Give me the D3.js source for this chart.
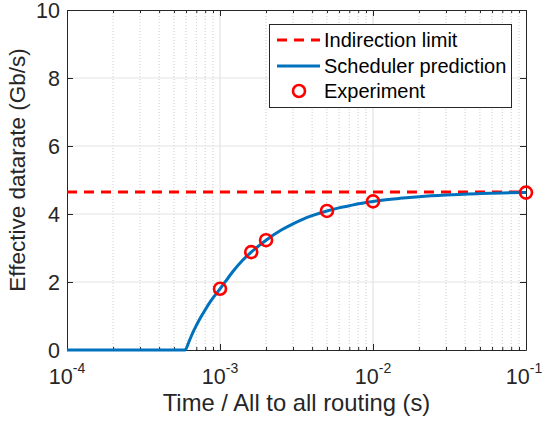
<!DOCTYPE html>
<html>
<head>
<meta charset="utf-8">
<script src="https://cdn.jsdelivr.net/npm/d3@7"></script>
<style>
  html, body { margin: 0; padding: 0; background: #fff; }
  svg { display: block; font-family: "Liberation Sans", Arial, Helvetica, sans-serif; }
</style>
</head>
<body>
<svg id="chart" width="543" height="423"></svg>
<script>
// Indirection limit (Gb/s)
const indirectionLimit = [4.65];

// Scheduler prediction curve (time in s, rate in Gb/s)
const predTime = [1e-4, 2e-4, 4e-4, 5.9e-4, 6.3e-4, 6.7e-4, 7e-4, 7.5e-4, 8e-4, 8.5e-4, 9e-4, 1e-3,
                  1.1e-3, 1.2e-3, 1.4e-3, 1.6e-3, 1.8e-3, 2e-3, 2.5e-3, 3e-3, 3.5e-3, 4e-3, 5e-3,
                  6e-3, 7e-3, 8e-3, 1e-2, 1.5e-2, 2e-2, 3e-2, 5e-2, 7e-2, 1e-1];
const predRate = [0, 0, 0, 0, 0.27, 0.55, 0.72, 0.97, 1.18, 1.37, 1.53, 1.80,
                  2.05, 2.28, 2.63, 2.88, 3.07, 3.23, 3.52, 3.71, 3.85, 3.95, 4.09,
                  4.18, 4.24, 4.30, 4.37, 4.46, 4.51, 4.56, 4.60, 4.62, 4.63];

// Experimental measurements
const expTime = [1e-3, 1.6e-3, 2e-3, 5e-3, 1e-2, 1e-1];
const expRate = [1.80, 2.88, 3.23, 4.09, 4.37, 4.63];

// Axis ticks
const xTickValues = [1e-4, 1e-3, 1e-2, 1e-1];
const xTickExponents = ["-4", "-3", "-2", "-1"];
const yTickValues = [0, 2, 4, 6, 8, 10];

const legendLabels = ["Indirection limit", "Scheduler prediction", "Experiment"];

const svg = d3.select("#chart");
const plot = { left: 67, top: 10, right: 526, bottom: 350 };
const axisColor = "#262626";
const blue = "#0072BD";
const red = "#FF0000";

const x = d3.scaleLog().domain([1e-4, 1e-1]).range([plot.left, plot.right]);
const y = d3.scaleLinear().domain([0, 10]).range([plot.bottom, plot.top]);

// minor decade values
const minorX = [];
for (let d = -4; d < -1; d++) {
  for (let m = 2; m <= 9; m++) minorX.push(m * Math.pow(10, d));
}

const grid = svg.append("g");
// minor x grid (dotted)
grid.selectAll("line.minor").data(minorX).enter().append("line")
  .attr("x1", d => x(d)).attr("x2", d => x(d))
  .attr("y1", plot.top).attr("y2", plot.bottom)
  .attr("stroke", "#cccccc").attr("stroke-width", 1)
  .attr("stroke-dasharray", "1,2");
// major x grid
grid.selectAll("line.majx").data(xTickValues.slice(1, -1)).enter().append("line")
  .attr("x1", d => x(d)).attr("x2", d => x(d))
  .attr("y1", plot.top).attr("y2", plot.bottom)
  .attr("stroke", "#e3e3e3").attr("stroke-width", 1.2);
// major y grid
grid.selectAll("line.majy").data(yTickValues.slice(1, -1)).enter().append("line")
  .attr("x1", plot.left).attr("x2", plot.right)
  .attr("y1", d => y(d)).attr("y2", d => y(d))
  .attr("stroke", "#e3e3e3").attr("stroke-width", 1.2);

// axes with inward ticks on all four sides
const xAxisBottom = d3.axisBottom(x).tickValues(xTickValues).tickSize(-6).tickFormat("");
const xAxisTop = d3.axisTop(x).tickValues(xTickValues).tickSize(-6).tickFormat("");
const yAxisLeft = d3.axisLeft(y).tickValues(yTickValues).tickSize(-6).tickFormat("");
const yAxisRight = d3.axisRight(y).tickValues(yTickValues).tickSize(-6).tickFormat("");
const xMinorBottom = d3.axisBottom(x).tickValues(minorX).tickSize(-3).tickFormat("");
const xMinorTop = d3.axisTop(x).tickValues(minorX).tickSize(-3).tickFormat("");

function styleAxis(g) {
  g.selectAll("path").attr("stroke", axisColor).attr("stroke-width", 1);
  g.selectAll("line").attr("stroke", axisColor).attr("stroke-width", 1);
}
svg.append("g").attr("transform", `translate(0,${plot.bottom})`).call(xMinorBottom).call(styleAxis).select("path").remove();
svg.append("g").attr("transform", `translate(0,${plot.top})`).call(xMinorTop).call(styleAxis).select("path").remove();
svg.append("g").attr("transform", `translate(0,${plot.bottom})`).call(xAxisBottom.tickSizeOuter(0)).call(styleAxis);
svg.append("g").attr("transform", `translate(0,${plot.top})`).call(xAxisTop.tickSizeOuter(0)).call(styleAxis);
svg.append("g").attr("transform", `translate(${plot.left},0)`).call(yAxisLeft.tickSizeOuter(0)).call(styleAxis);
svg.append("g").attr("transform", `translate(${plot.right},0)`).call(yAxisRight.tickSizeOuter(0)).call(styleAxis);

// tick labels (power-of-ten with superscript exponent)
const xLab = svg.append("g").attr("fill", axisColor);
xTickValues.forEach((v, i) => {
  const t = xLab.append("text")
    .attr("x", x(v) - (i === xTickValues.length - 1 ? 2 : 0)).attr("y", 384)
    .attr("text-anchor", "middle")
    .attr("font-size", 21.5);
  t.append("tspan").text("10");
  t.append("tspan").attr("dy", -11).attr("font-size", 14).text(xTickExponents[i]);
});
svg.append("g").attr("fill", axisColor).selectAll("text").data(yTickValues).enter().append("text")
  .attr("x", 60).attr("y", d => y(d) + 8)
  .attr("text-anchor", "end").attr("font-size", 21.5)
  .text(d => d);

// axis labels
svg.append("text")
  .attr("x", (plot.left + plot.right) / 2).attr("y", 411)
  .attr("text-anchor", "middle").attr("font-size", 23.8).attr("fill", axisColor)
  .text("Time / All to all routing (s)");
svg.append("text")
  .attr("transform", `translate(25,170) rotate(-90)`)
  .attr("text-anchor", "middle").attr("font-size", 22.5).attr("fill", axisColor)
  .text("Effective datarate (Gb/s)");

const layer = svg.append("g");

// indirection limit
layer.selectAll("line.limit").data(indirectionLimit).enter().append("line")
  .attr("x1", x(1e-4)).attr("x2", x(1e-1))
  .attr("y1", d => y(d)).attr("y2", d => y(d))
  .attr("stroke", red).attr("stroke-width", 3)
  .attr("stroke-dasharray", "10,7");

// scheduler prediction
const predPoints = predTime.map((t, i) => [t, predRate[i]]);
const line = d3.line().x(d => x(d[0])).y(d => y(d[1])).curve(d3.curveMonotoneX);
layer.append("path").datum(predPoints)
  .attr("d", line).attr("fill", "none")
  .attr("stroke", blue).attr("stroke-width", 3);

// experiment markers
layer.selectAll("circle.exp").data(expTime.map((t, i) => [t, expRate[i]])).enter().append("circle")
  .attr("cx", d => x(d[0])).attr("cy", d => y(d[1])).attr("r", 6)
  .attr("fill", "none").attr("stroke", red).attr("stroke-width", 2.6);

// legend
const legend = svg.append("g");
legend.append("rect")
  .attr("x", 269.5).attr("y", 24.5).attr("width", 242).attr("height", 83)
  .attr("fill", "#fff").attr("stroke", axisColor).attr("stroke-width", 1);
const rowsY = [40, 66, 91];
legend.append("line")
  .attr("x1", 277).attr("x2", 320).attr("y1", rowsY[0]).attr("y2", rowsY[0])
  .attr("stroke", red).attr("stroke-width", 3).attr("stroke-dasharray", "10,7");
legend.append("line")
  .attr("x1", 277).attr("x2", 320).attr("y1", rowsY[1]).attr("y2", rowsY[1])
  .attr("stroke", blue).attr("stroke-width", 3);
legend.append("circle")
  .attr("cx", 299).attr("cy", rowsY[2]).attr("r", 6)
  .attr("fill", "none").attr("stroke", red).attr("stroke-width", 2.6);
legend.selectAll("text.lab").data(legendLabels).enter().append("text")
  .attr("x", 324).attr("y", (d, i) => rowsY[i] + 7)
  .attr("font-size", 20).attr("fill", "#000")
  .text(d => d);
</script>
</body>
</html>
